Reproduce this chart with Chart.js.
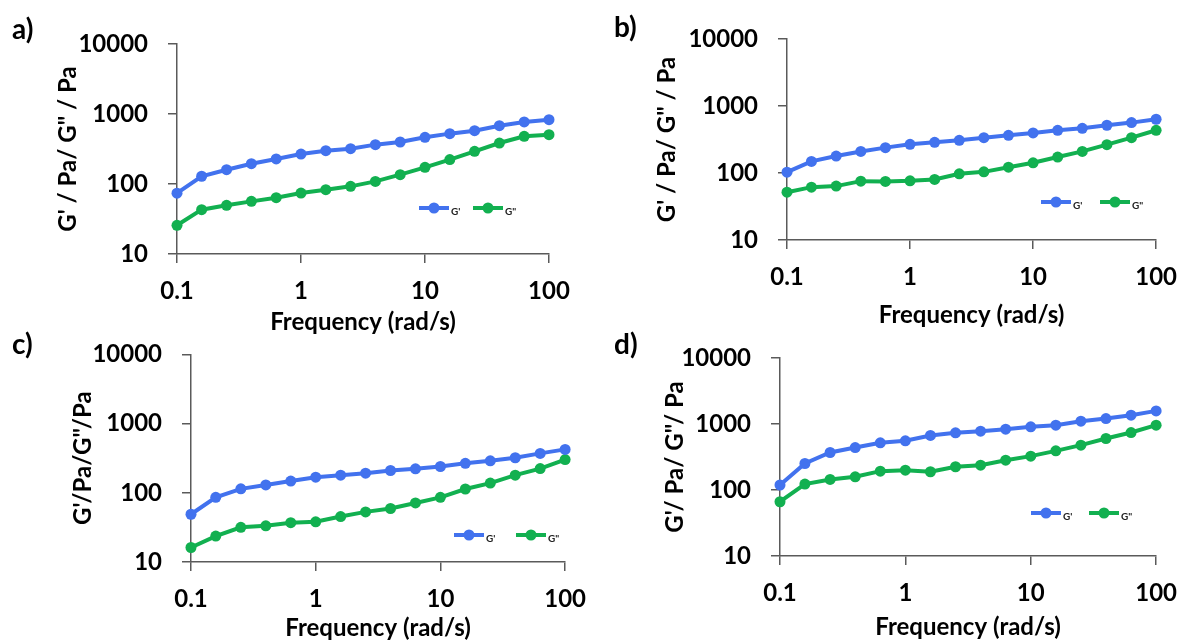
<!DOCTYPE html>
<html>
<head>
<meta charset="utf-8">
<title>G' / G" frequency sweeps</title>
<script src="https://cdn.jsdelivr.net/npm/chart.js@4.4.1/dist/chart.umd.min.js"></script>
<style>
  html, body { margin: 0; padding: 0; background: #fff; }
  body { width: 1191px; height: 643px; position: relative; overflow: hidden; font-family: Lato, sans-serif; }
  .panel { position: absolute; }
  .letter { position: absolute; font: bold 28px Lato, sans-serif; color: #000; line-height: 1; }
</style>
</head>
<body>
<div class="panel" id="box0"><canvas id="chart0"></canvas></div>
<div class="panel" id="box1"><canvas id="chart1"></canvas></div>
<div class="panel" id="box2"><canvas id="chart2"></canvas></div>
<div class="panel" id="box3"><canvas id="chart3"></canvas></div>
<div class="letter" id="letter0"></div>
<div class="letter" id="letter1"></div>
<div class="letter" id="letter2"></div>
<div class="letter" id="letter3"></div>

<script>
// angular frequency, 5 points per decade
const freq = [0.1, 0.158, 0.251, 0.398, 0.631, 1, 1.585, 2.512, 3.981, 6.31, 10, 15.85, 25.12, 39.81, 63.1, 100];

const xTicks = [0.1, 1, 10, 100];
const xTickLabels = ['0.1', '1', '10', '100'];
const yTicks = [10, 100, 1000, 10000];
const yTickLabels = ['10', '100', '1000', '10000'];

const seriesNames = ["G'", 'G"'];
const panelLetters = ['a)', 'b)', 'c)', 'd)'];
const yTitles = ['G\' / Pa/ G" / Pa', 'G\' / Pa/ G" / Pa', 'G\'/Pa/G"/Pa', 'G\'/ Pa/ G"/ Pa'];
const xTitle = 'Frequency (rad/s)';

// storage modulus G' (Pa)
const storageA = [74, 129, 160, 195, 228, 268, 299, 320, 365, 398, 464, 524, 578, 681, 769, 830];
const storageB = [103, 149, 179, 210, 239, 268, 287, 307, 337, 365, 396, 434, 465, 516, 565, 634];
const storageC = [49, 86, 114, 130, 148, 168, 180, 192, 210, 222, 240, 267, 290, 321, 371, 424];
const storageD = [119, 252, 370, 440, 519, 556, 670, 735, 778, 834, 905, 959, 1102, 1210, 1358, 1580];

// loss modulus G" (Pa)
const lossA = [25.7, 43, 49.6, 56.5, 63.8, 74.3, 83, 92.6, 109, 136, 173, 223, 293, 385, 480, 507];
const lossB = [51.7, 61.5, 63.7, 75.6, 74.8, 76.5, 80.1, 97.4, 104, 122, 142, 173, 210, 265, 337, 434];
const lossC = [16.2, 23.7, 31.7, 33.3, 37, 38.1, 45.4, 53, 59.3, 71.4, 86, 113.5, 138, 180, 224, 302];
const lossD = [66.4, 123, 144.5, 158.5, 193, 200, 189, 225, 238, 283, 326, 392, 478, 603, 743, 959];

const storage = [storageA, storageB, storageC, storageD];
const loss = [lossA, lossB, lossC, lossD];

const blue = '#4272ee';
const green = '#12b050';
const axisGray = '#5a5a5a';

// page geometry of each panel: canvas box, plot area, title centres, legend spot
const panels = [
  { left: 0,   top: 0,   width: 600, area: [177, 44, 549, 254],  yTitleX: 68,  xTitleY: 322, legend: [[419, 473], 208], letter: [12, 14] },
  { left: 600, top: 0,   width: 591, area: [787, 39, 1166, 240], yTitleX: 667, xTitleY: 315, legend: [[1041, 1100], 202], letter: [614, 12] },
  { left: 0,   top: 320, width: 600, area: [191, 338, 566, 562], yTitleX: 83,  xTitleY: 628, legend: [[454, 516], 535], letter: [12, 329] },
  { left: 600, top: 320, width: 591, area: [780, 358, 1169, 556], yTitleX: 675, xTitleY: 627, legend: [[1031, 1089], 513], letter: [614, 329] }
];

Chart.defaults.font.family = 'Lato, sans-serif';
Chart.defaults.color = '#000';

const titleFont = { size: 24, weight: 'bold', lineHeight: 1.2 };
const tickFont = { size: 24, weight: 'bold', lineHeight: 1.2 };
const half = 24 * 1.2 / 2;

// small line-and-dot key drawn inside the plot
const inlineLegend = {
  id: 'inlineLegend',
  afterDatasetsDraw(chart, args, opts) {
    const ctx = chart.ctx;
    ctx.save();
    chart.data.datasets.forEach((ds, i) => {
      const x = opts.x[i];
      const y = opts.y;
      ctx.strokeStyle = ds.borderColor;
      ctx.lineWidth = 4;
      ctx.beginPath();
      ctx.moveTo(x, y);
      ctx.lineTo(x + 30, y);
      ctx.stroke();
      ctx.fillStyle = ds.borderColor;
      ctx.beginPath();
      ctx.arc(x + 15, y, 5.5, 0, Math.PI * 2);
      ctx.fill();
      ctx.fillStyle = '#222';
      ctx.font = 'bold 10px Lato, sans-serif';
      ctx.textAlign = 'left';
      ctx.textBaseline = 'middle';
      ctx.fillText(ds.label, x + 32, y + 4);
    });
    ctx.restore();
  }
};

function makeDataset(label, values, color) {
  return {
    label: label,
    data: freq.map((f, i) => ({ x: f, y: values[i] })),
    borderColor: color,
    backgroundColor: color,
    pointBackgroundColor: color,
    pointBorderWidth: 0,
    pointRadius: 5.5,
    borderWidth: 4,
    tension: 0,
    clip: false
  };
}

panels.forEach((p, k) => {
  const [al, at, ar, ab] = p.area;
  const plotLeft = al - p.left;
  const plotTop = at - p.top;
  const plotRight = ar - p.left;
  const plotBottom = ab - p.top;
  const padLeft = p.yTitleX - p.left - half;
  const xAxisHeight = p.xTitleY - p.top - plotBottom + half;
  const height = plotBottom + xAxisHeight;

  const box = document.getElementById('box' + k);
  box.style.left = p.left + 'px';
  box.style.top = p.top + 'px';
  box.style.width = p.width + 'px';
  box.style.height = height + 'px';

  const letter = document.getElementById('letter' + k);
  letter.textContent = panelLetters[k];
  letter.style.left = p.letter[0] + 'px';
  letter.style.top = p.letter[1] + 'px';

  new Chart(document.getElementById('chart' + k), {
    type: 'line',
    data: {
      datasets: [
        makeDataset(seriesNames[0], storage[k], blue),
        makeDataset(seriesNames[1], loss[k], green)
      ]
    },
    plugins: [inlineLegend],
    options: {
      responsive: true,
      maintainAspectRatio: false,
      animation: false,
      layout: {
        padding: { left: padLeft, top: plotTop, right: p.width - plotRight, bottom: 0 }
      },
      scales: {
        x: {
          type: 'logarithmic',
          min: 0.1,
          max: 100,
          afterBuildTicks: (scale) => { scale.ticks = xTicks.map(v => ({ value: v, major: true })); },
          afterFit: (scale) => { scale.height = xAxisHeight; },
          ticks: {
            autoSkip: false,
            maxRotation: 0,
            padding: 14,
            font: tickFont,
            color: '#000',
            callback: (value, index) => xTickLabels[index]
          },
          grid: { drawOnChartArea: false, drawTicks: true, tickLength: 9, color: axisGray, lineWidth: 1.5 },
          border: { display: true, color: axisGray, width: 1.5 },
          title: { display: true, text: xTitle, font: titleFont, color: '#000', padding: 0 }
        },
        y: {
          type: 'logarithmic',
          min: 10,
          max: 10000,
          afterBuildTicks: (scale) => { scale.ticks = yTicks.map(v => ({ value: v, major: true })); },
          afterFit: (scale) => { scale.width = plotLeft - padLeft; },
          ticks: {
            padding: 20,
            font: tickFont,
            color: '#000',
            callback: (value, index) => yTickLabels[index]
          },
          grid: { drawOnChartArea: false, drawTicks: true, tickLength: 9, color: axisGray, lineWidth: 1.5 },
          border: { display: true, color: axisGray, width: 1.5 },
          title: { display: true, text: yTitles[k], font: titleFont, color: '#000', padding: 0 }
        }
      },
      plugins: {
        legend: { display: false },
        tooltip: { enabled: false },
        inlineLegend: { x: p.legend[0].map(v => v - p.left), y: p.legend[1] - p.top }
      }
    }
  });
});
</script>
</body>
</html>
